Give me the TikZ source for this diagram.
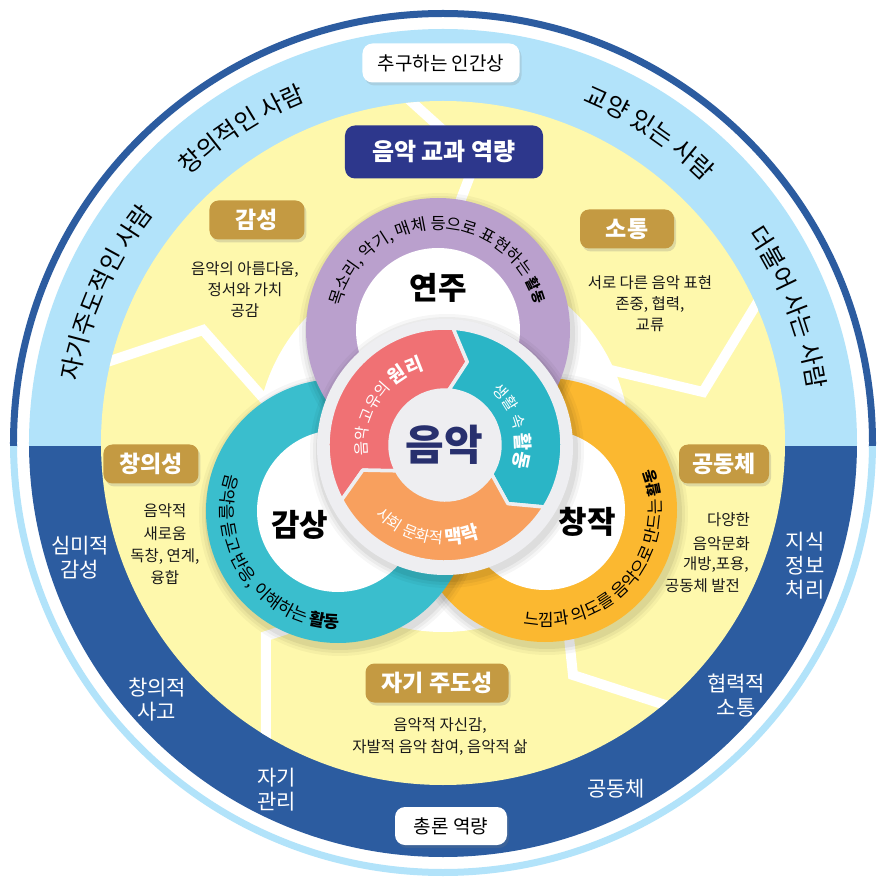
\documentclass[tikz,border=0pt]{standalone}
\usepackage{fontspec}
\setmainfont{Noto Sans CJK KR}
\usetikzlibrary{decorations.text,shadows}
\definecolor{dblue}{RGB}{44,92,160}
\definecolor{lblue}{RGB}{178,227,250}
\definecolor{yel}{RGB}{254,248,172}
\definecolor{gold}{RGB}{196,154,66}
\definecolor{navy}{RGB}{45,55,140}
\definecolor{purp}{RGB}{186,160,205}
\definecolor{tealr}{RGB}{58,190,205}
\definecolor{oranr}{RGB}{251,184,48}
\definecolor{segr}{RGB}{240,113,116}
\definecolor{segt}{RGB}{42,181,198}
\definecolor{sego}{RGB}{248,160,94}
\definecolor{dgray}{RGB}{238,238,241}
\definecolor{ctext}{RGB}{40,48,110}
\newcommand\rtxt{\fontsize{16.5}{20}\selectfont}
\newcommand\rtxtt{\fontsize{17}{20}\selectfont}
\newcommand\rtxto{\fontsize{17}{20}\selectfont}
\newcommand\rtxtb{\fontsize{14}{17}\selectfont\bfseries}
\newcommand\rtxtc{\fontsize{17}{20}\selectfont\bfseries}
\newcommand\rtxtd{\fontsize{15}{18}\selectfont\bfseries}
\newcommand\stxt{\fontsize{15.5}{18}\selectfont}
\newcommand\stxtb{\fontsize{19}{22}\selectfont\bfseries}
\newcommand\otxt{\fontsize{24.5}{28}\selectfont}
\newcommand\softshadow[3]{%
  \foreach \rr/\op in {9/0.035,6/0.045,3/0.06}{%
    \fill[black,opacity=\op] (#1+2,#2-4) circle[radius=#3+\rr];}}
\tikzset{
  goldbox/.style={fill=gold, rounded corners=9pt, text=white,
    font=\fontsize{23}{26}\selectfont\bfseries, minimum height=39pt,
    inner sep=0pt, drop shadow={opacity=0.25,shadow xshift=2pt,shadow yshift=-3pt}},
  whitebox/.style={fill=white, rounded corners=10pt, text=black,
    font=\fontsize{19}{22}\selectfont, minimum height=39pt, inner sep=0pt,
    drop shadow={opacity=0.2,shadow xshift=2pt,shadow yshift=-3pt}},
  desc/.style={font=\fontsize{15.5}{21}\selectfont, align=center, text=black!90, inner sep=0pt},
  band/.style={font=\fontsize{21}{24}\selectfont, align=center, text=white, inner sep=0pt},
  divider/.style={white, line width=10pt, line join=miter},
  ringlabel/.style={font=\fontsize{31}{34}\selectfont\bfseries, text=black, inner sep=0pt},
  outertext/.style={decorate, decoration={text along path, text align=center, text={|\otxt|#1}}},
  seg/.style={draw=dgray, line width=3.5pt, line join=round}
}
\begin{document}
\begin{tikzpicture}[x=1pt,y=1pt]
\useasboundingbox (-443,-437) rectangle (434,443);
\fill[white] (-443,-437) rectangle (434,443);
% outer bands
\begin{scope}
  \clip (-450,-4) rectangle (450,450);
  \fill[dblue,even odd rule] (0,0) circle[radius=433] (0,0) circle[radius=426];
  \fill[lblue] (0,0) circle[radius=414];
\end{scope}
\begin{scope}
  \clip (-450,-4) rectangle (450,-450);
  \fill[lblue,even odd rule] (0,0) circle[radius=433] (0,0) circle[radius=426];
  \fill[dblue] (0,0) circle[radius=414];
\end{scope}
\fill[yel] (0,0) circle[radius=342];
% dividers
\begin{scope}
  \clip (0,0) circle[radius=342];
  \draw[divider] (-360,73) -- (-240,113) -- (-170,34);
  \draw[divider] (-50,358) -- (33,283) -- (12,228);
  \draw[divider] (330,166) -- (260,51) -- (155,76);
  \draw[divider] (125,-185) -- (130,-232) -- (250,-271);
  \draw[divider] (-177,-330) -- (-177,-193) -- (-143,-182);
\end{scope}
% white halo
\fill[white] (0,-2) circle[radius=187];
% rings
\softshadow{102}{-67}{132}
\fill[oranr] (102,-67) circle[radius=132];
\fill[white] (102,-67) circle[radius=80];
\softshadow{-105}{-68}{132}
\fill[tealr] (-105,-68) circle[radius=132];
\fill[white] (-105,-68) circle[radius=81];
\softshadow{-5}{113}{132}
\fill[purp] (-5,113) circle[radius=132];
\fill[white] (-5,113) circle[radius=82];
% ring texts
\path[decorate,decoration={text along path,text align=center,
  text={|\rtxt|목소리, 악기, 매체 등으로 표현하는 |\rtxtb|활동}}]
  (-5,113) ++(200.5:100.5) arc[start angle=200.5,end angle=-19.5,radius=100.5];
\path[decorate,decoration={text along path,text align=center,
  text={|\rtxtt|음악을 듣고 반응, 이해하는 |\rtxtc|활동}}]
  (-105,-68) ++(106:117) arc[start angle=106,end angle=326,radius=117];
\path[decorate,decoration={text along path,text align=center,
  text={|\rtxto|느낌과 의도를 음악으로 만드는 |\rtxtd|활동}}]
  (102,-67) ++(210:116) arc[start angle=210,end angle=430,radius=116];
\node[ringlabel] (yeonju) at (-5,155) {연주};
\node[ringlabel] (gamsang) at (-143,-82) {감상};
\node[ringlabel] (changjak) at (144,-79) {창작};
% center disc
\softshadow{2}{-4}{128}
\fill[dgray] (2,-4) circle[radius=128];
\begin{scope}[shift={(2,-2)}]
  \filldraw[segr,seg] (208:117) arc[start angle=208,end angle=86,radius=117]
    -- (75:86) -- (86:55) arc[start angle=86,end angle=208,radius=55] -- (197:86) -- cycle;
  \filldraw[segt,seg] (86:117) arc[start angle=86,end angle=-32,radius=117]
    -- (-43:86) -- (-32:55) arc[start angle=-32,end angle=86,radius=55] -- (75:86) -- cycle;
  \filldraw[sego,seg] (-32:117) arc[start angle=-32,end angle=-152,radius=117]
    -- (-163:86) -- (-152:55) arc[start angle=-152,end angle=-32,radius=55] -- (-43:86) -- cycle;
  \path[decorate,decoration={text along path,text align=center,
    text={|\color{white}\stxt|음악 고유의 |\color{white}\stxtb|원리}}]
    (246.5:78) arc[start angle=246.5,end angle=46.5,radius=78];
  \path[decorate,decoration={text along path,text align=center,
    text={|\color{white}\stxt|생활 속 |\color{white}\stxtb|활동}}]
    (115.5:71) arc[start angle=115.5,end angle=-84.5,radius=71];
  \path[decorate,decoration={text along path,text align=center,
    text={|\color{white}\stxt|사회 문화적 |\color{white}\stxtb|맥락}}]
    (158:99) arc[start angle=158,end angle=358,radius=99];
\end{scope}
\node[font=\fontsize{42}{46}\selectfont\bfseries, text=ctext, inner sep=0pt] (eumak) at (1,-2) {음악};
% outer curved texts
\path[outertext={자기주도적인 사람}] (196:369) arc[start angle=196,end angle=116,radius=369];
\path[outertext={창의적인 사람}] (162.7:369) arc[start angle=162.7,end angle=82.7,radius=369];
\path[outertext={교양 있는 사람}] (96.4:369) arc[start angle=96.4,end angle=16.4,radius=369];
\path[outertext={더불어 사는 사람}] (61.4:369) arc[start angle=61.4,end angle=-18.6,radius=369];
% boxes
\node[whitebox, minimum width=157pt] (ingan) at (-2,380) {추구하는 인간상};
\node[fill=navy, rounded corners=10pt, text=white, font=\fontsize{24}{28}\selectfont\bfseries,
  minimum width=198pt, minimum height=53pt, inner sep=0pt] (gyogwa) at (1,291) {음악 교과 역량};
\node[goldbox, minimum width=95pt] (gamsung) at (-186,223) {감성};
\node[goldbox, minimum width=94pt] (sotong) at (184,214) {소통};
\node[goldbox, minimum width=95pt] (changui) at (-292,-21) {창의성};
\node[goldbox, minimum width=90pt] (gongdong) at (281,-21) {공동체};
\node[goldbox, minimum width=143pt] (jagi) at (-6,-240) {자기 주도성};
\node[whitebox, minimum width=112pt, minimum height=38pt] (chongron) at (8,-383) {총론 역량};
% descriptions
\node[desc] (d1) at (-198,153) {음악의 아름다움,\\정서와 가치\\공감};
\node[desc] (d2) at (207,139) {서로 다른 음악 표현\\존중, 협력,\\교류};
\node[desc, font=\fontsize{15.5}{22.3}\selectfont] (d3) at (-278,-101.5) {음악적\\새로움\\독창, 연계,\\융합};
\node[desc, anchor=east] (d4a) at (307,-77) {다양한};
\node[desc, anchor=east] (d4b) at (307,-101) {음악문화};
\node[desc, anchor=east] (d4c) at (306,-122) {개방,포용,};
\node[desc, anchor=east] (d4d) at (297,-143) {공동체 발전};
\node[desc, font=\fontsize{15.5}{22}\selectfont] (d5) at (-3,-294) {음악적 자신감,\\자발적 음악 참여, 음악적 삶};
% band labels
\node[band] (b1) at (-363,-115) {심미적\\감성};
\node[band] (b2) at (-286,-257) {창의적\\사고};
\node[band] (b3) at (-166,-347) {자기\\관리};
\node[band] (b4) at (173,-346) {공동체};
\node[band] (b5) at (293,-253) {협력적\\소통};
\node[band] (b6) at (362,-123) {지식\\정보\\처리};
\end{tikzpicture}
\end{document}
